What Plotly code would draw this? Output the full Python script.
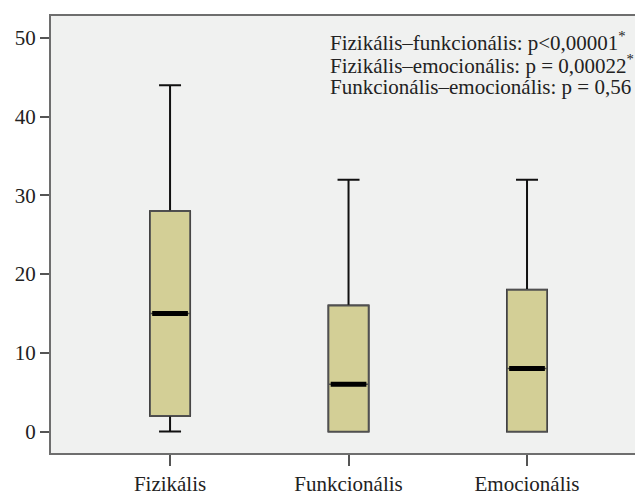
import plotly.graph_objects as go

categories = ["Fizikális", "Funkcionális", "Emocionális"]
minimum = [0, 0, 0]
q1 = [2, 0, 0]
median = [15, 6, 8]
q3 = [28, 16, 18]
maximum = [44, 32, 32]
yticks = [0, 10, 20, 30, 40, 50]
notes = [
    "Fizikális–funkcionális: p<0,00001<sup>*</sup>",
    "Fizikális–emocionális: p = 0,00022<sup>*</sup>",
    "Funkcionális–emocionális: p = 0,56",
]

pos = list(range(len(categories)))
fill = "#d3cf96"
FONT = "Liberation Serif"

fig = go.Figure()
# whiskers + box (black)
fig.add_trace(go.Box(
    x=pos, q1=q1, median=median, q3=q3, lowerfence=minimum, upperfence=maximum,
    width=0.224, whiskerwidth=0.55, fillcolor=fill,
    line=dict(color="#111111", width=2), hoverinfo="skip", showlegend=False))
# box outline (grey)
fig.add_trace(go.Box(
    x=pos, q1=q1, median=median, q3=q3, lowerfence=q1, upperfence=q3,
    width=0.224, whiskerwidth=0, fillcolor=fill,
    line=dict(color="#505050", width=1.6), hoverinfo="skip", showlegend=False))
# thick median
fig.add_trace(go.Box(
    x=pos, q1=median, median=median, q3=median, lowerfence=median, upperfence=median,
    width=0.2, whiskerwidth=0, fillcolor="black",
    line=dict(color="black", width=5), hoverinfo="skip", showlegend=False))

note_y = [49.5, 46.65, 43.8]
for t, yy in zip(notes, note_y):
    fig.add_annotation(text=t, xref="paper", yref="y", x=0.474, y=yy,
                       xanchor="left", yanchor="middle", showarrow=False,
                       font=dict(family=FONT, size=21, color="#222222"))

fig.update_layout(
    width=635, height=497,
    margin=dict(l=51, r=0, t=16, b=44),
    paper_bgcolor="white", plot_bgcolor="#f0f1f0",
    boxmode="overlay",
    font=dict(family=FONT, size=21, color="#222222"),
)
fig.update_xaxes(
    range=[-0.667, 2.605], tickvals=pos, ticktext=categories,
    showline=True, linecolor="#6e6e6e", linewidth=2, mirror=True,
    ticks="outside", ticklen=11, tickwidth=2, tickcolor="#555555",
    showgrid=False, zeroline=False, fixedrange=True, automargin=False,
)
fig.update_yaxes(
    range=[-2.73, 52.8], tickvals=yticks,
    showline=True, linecolor="#6e6e6e", linewidth=2,
    ticks="outside", ticklen=9, tickwidth=2, tickcolor="#555555",
    showgrid=False, zeroline=False, fixedrange=True, automargin=False,
)

fig.write_html(
    "out.html",
    config={"displayModeBar": False},
    post_script="document.body.style.margin='0';document.body.style.overflow='hidden';",
)
